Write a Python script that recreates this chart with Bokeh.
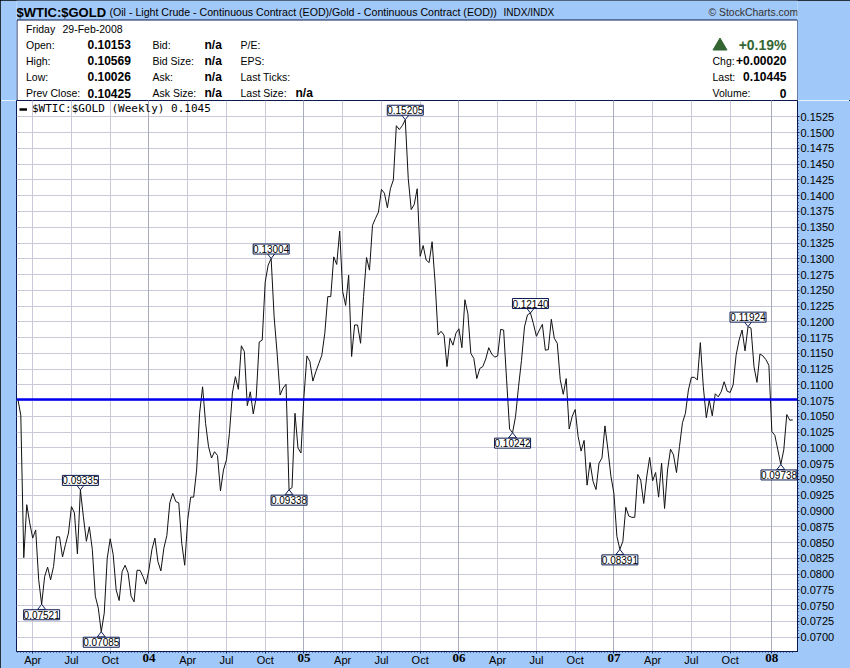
from bokeh.plotting import figure
from bokeh.embed import file_html
from bokeh.layouts import column
from bokeh.resources import INLINE
from bokeh.core.properties import value
from bokeh.models import (FixedTicker, Grid, Label, Legend, LegendItem, LinearAxis, Range1d, Span)

# --- data: weekly $WTIC:$GOLD ratio ---
ratio_2003 = [0.1078, 0.1052, 0.0826, 0.0910, 0.0881, 0.0857, 0.0870, 0.0791, 0.0752, 0.0796, 0.0811,
              0.0791, 0.0812, 0.0859, 0.0859, 0.0827, 0.0847, 0.0865, 0.0907, 0.0897, 0.0832, 0.09335,
              0.0891, 0.0852, 0.0875, 0.0839, 0.0765, 0.0746, 0.07085, 0.0738, 0.0825, 0.0856, 0.0831,
              0.0775, 0.0758, 0.0804, 0.0814, 0.0802, 0.0765, 0.0756, 0.0806, 0.0806, 0.0796, 0.0784]
ratio_2004 = [0.0807, 0.0839, 0.0857, 0.0820, 0.0805, 0.0841, 0.0861, 0.0913, 0.0928, 0.0915, 0.0913,
              0.0849, 0.0814, 0.0886, 0.0922, 0.0922, 0.0965, 0.1055, 0.1097, 0.1039, 0.1002, 0.0984,
              0.0994, 0.0988, 0.0932, 0.0965, 0.0981, 0.1023, 0.1087, 0.1113, 0.1093, 0.1162, 0.1153,
              0.1067, 0.1089, 0.1054, 0.1081, 0.1168, 0.1171, 0.1263, 0.1290, 0.13004, 0.1208, 0.1150,
              0.1084, 0.1095, 0.1101, 0.09338, 0.0937, 0.1055, 0.1000, 0.0992]
ratio_2005 = [0.1081, 0.1146, 0.1137, 0.1106, 0.1121, 0.1134, 0.1147, 0.1182, 0.1240, 0.1240, 0.1303,
              0.1291, 0.1344, 0.1248, 0.1226, 0.1274, 0.1145, 0.1195, 0.1195, 0.1166, 0.1240, 0.1302,
              0.1282, 0.1353, 0.1364, 0.1374, 0.1410, 0.1404, 0.1381, 0.1411, 0.1425, 0.1511, 0.1505,
              0.1511, 0.15205, 0.1427, 0.1378, 0.1386, 0.1411, 0.1304, 0.1321, 0.1298, 0.1294, 0.1327,
              0.1263, 0.1179, 0.1185, 0.1179, 0.1129, 0.1174, 0.1163, 0.1182]
ratio_2006 = [0.1189, 0.1159, 0.1235, 0.1213, 0.1150, 0.1142, 0.1110, 0.1126, 0.1129, 0.1141, 0.1159,
              0.1149, 0.1144, 0.1146, 0.1188, 0.1187, 0.1108, 0.1030, 0.10242, 0.1050, 0.1097, 0.1139,
              0.1192, 0.1211, 0.12140, 0.1197, 0.1177, 0.1187, 0.1196, 0.1155, 0.1156, 0.1204, 0.1174,
              0.1166, 0.1108, 0.1085, 0.1110, 0.1030, 0.1050, 0.1061, 0.1018, 0.0995, 0.1012, 0.0941,
              0.0977, 0.0947, 0.0934, 0.0976, 0.0984, 0.1035, 0.0997, 0.0955]
ratio_2007 = [0.0928, 0.0860, 0.08391, 0.0852, 0.0906, 0.0892, 0.0890, 0.0890, 0.0958, 0.0949, 0.0912,
              0.0954, 0.0985, 0.0948, 0.0961, 0.0922, 0.0976, 0.0904, 0.0965, 0.0998, 0.0989, 0.0961,
              0.1002, 0.1040, 0.1055, 0.1092, 0.1112, 0.1112, 0.1108, 0.1167, 0.1097, 0.1048, 0.1076,
              0.1051, 0.1086, 0.1081, 0.1089, 0.1105, 0.1090, 0.1088, 0.1100, 0.1147, 0.1171, 0.1187,
              0.1154, 0.11924, 0.1190, 0.1129, 0.1104, 0.1149, 0.1146, 0.1140, 0.1131]
ratio_2008 = [0.1026, 0.1020, 0.0997, 0.09738, 0.0997, 0.1053, 0.1044, 0.10445]
ratio = ratio_2003 + ratio_2004 + ratio_2005 + ratio_2006 + ratio_2007 + ratio_2008
weeks = list(range(len(ratio)))

quarter_ticks = [5, 18, 31, 44, 57, 70, 83, 96, 109, 122, 135, 148, 161, 174, 187, 200, 213, 226, 239, 253]
quarter_names = ["Apr", "Jul", "Oct", "", "Apr", "Jul", "Oct", "", "Apr", "Jul", "Oct", "",
                 "Apr", "Jul", "Oct", "", "Apr", "Jul", "Oct", ""]
year_ticks = [44, 96, 148, 200, 253]
year_names = ["04", "05", "06", "07", "08"]

price_ticks = [round(0.07 + 0.0025 * k, 4) for k in range(34)]
reference_level = 0.1077

call_weeks = [8, 21, 28, 85, 91, 130, 166, 172, 202, 245, 256]
call_values = [0.07521, 0.09335, 0.07085, 0.13004, 0.09338, 0.15205, 0.10242, 0.12140, 0.08391, 0.11924, 0.09738]
call_above = [False, True, False, True, False, True, False, True, False, True, False]

info_rows = ["Open:", "High:", "Low:", "Prev Close:"]
info_values = ["0.10153", "0.10569", "0.10026", "0.10425"]
bid_rows = ["Bid:", "Bid Size:", "Ask:", "Ask Size:"]
misc_rows = ["P/E:", "EPS:", "Last Ticks:", "Last Size:"]

# --- style ---
BG = "#a0c8f8"
NAVY = "#0a1a50"
GRID = "#c9c9d9"
YEAR_GRID = "#a9adbb"
GREEN = "#336633"
SANS = "Liberation Sans"

# --- header panel: its frame lines up with the chart's, so its x range runs 16..797 ---
hdr = figure(width=850, height=100, output_backend="svg", toolbar_location=None,
             x_range=Range1d(16, 797), y_range=Range1d(100, 0),
             x_axis_location=None, y_axis_location=None, min_border=0,
             border_fill_color=BG, background_fill_color=BG, outline_line_color=None)
hdr.grid.visible = False
hdr.quad(left=[16.5], right=[797], top=[19.5], bottom=[100.5], fill_color="white", line_color=NAVY)
hdr.patch([712.5, 719.5, 726.5], [49.5, 37.5, 49.5], fill_color=GREEN, line_color=GREEN)

def text(x, y, s, size="10.5px", bold=False, align="left", color="black", font=SANS):
    hdr.add_layout(Label(x=x, y=y, text=s, text_align=align, text_baseline="middle",
                         text_font=font, text_font_size=size,
                         text_font_style="bold" if bold else "normal", text_color=color))

text(16, 11.5, "$WTIC:$GOLD", "13px", True)
text(109, 11.5, "(Oil - Light Crude - Continuous Contract (EOD)/Gold - Continuous Contract (EOD))", "10.6px")
text(503, 11.5, "INDX/INDX", "10px")
text(708, 11.5, "\u00a9 StockCharts.com", "10.4px", color="#333333")
text(25.5, 28.5, "Friday")
text(62, 28.5, "29-Feb-2008")
rows_y = [44, 60, 76, 92.5]
for y, a, b, c, d in zip(rows_y, info_rows, info_values, bid_rows, misc_rows):
    text(25.5, y, a)
    text(87, y, b, "12px", True)
    text(152, y, c)
    text(204, y, "n/a", "12px", True)
    text(240, y, d)
text(295, 92.5, "n/a", "12px", True)
text(786, 44, "+0.19%", "14px", True, "right", GREEN)
text(712, 60, "Chg:")
text(786, 60, "+0.00020", "12px", True, "right")
text(712, 76, "Last:")
text(786, 76, "0.10445", "12px", True, "right")
text(712, 92.5, "Volume:")
text(786, 92.5, "0", "12px", True, "right")

# --- chart ---
y_low, y_high = 0.06772, 0.1551
p = figure(width=850, height=568, output_backend="svg", toolbar_location=None,
           x_range=Range1d(-0.44, 261.6), y_range=Range1d(y_low, y_high),
           x_axis_location=None, y_axis_location=None,
           min_border_left=16, min_border_right=53, min_border_top=0, min_border_bottom=16,
           border_fill_color=BG, background_fill_color="white",
           outline_line_color=NAVY, outline_line_width=1)
p.grid.visible = False

x_axis = LinearAxis(ticker=FixedTicker(ticks=quarter_ticks, minor_ticks=weeks),
                    major_label_overrides=dict(zip(quarter_ticks, quarter_names)),
                    axis_line_color=NAVY, major_tick_line_color=NAVY, minor_tick_line_color=NAVY,
                    major_tick_in=0, major_tick_out=2, minor_tick_in=0, minor_tick_out=1,
                    major_label_text_font=SANS, major_label_text_font_size="11px",
                    major_label_text_color="black", major_label_standoff=0)
p.add_layout(x_axis, "below")

year_axis = LinearAxis(ticker=FixedTicker(ticks=year_ticks),
                       major_label_overrides=dict(zip(year_ticks, year_names)),
                       axis_line_color=None, major_tick_line_color=None, minor_tick_line_color=None,
                       major_tick_in=0, major_tick_out=0, minor_tick_in=0, minor_tick_out=0,
                       major_label_text_font="Liberation Serif", major_label_text_font_size="13px",
                       major_label_text_font_style="bold",
                       major_label_text_color="black", major_label_standoff=-15)
p.add_layout(year_axis, "below")

y_axis = LinearAxis(ticker=FixedTicker(ticks=price_ticks,
                                       minor_ticks=[round(0.07 + 0.0005 * k, 4) for k in range(166)]),
                    major_label_overrides={t: f"{t:.4f}" for t in price_ticks},
                    axis_line_color=NAVY, major_tick_line_color=NAVY, minor_tick_line_color=NAVY,
                    major_tick_in=0, major_tick_out=2, minor_tick_in=0, minor_tick_out=1,
                    major_label_text_font=SANS, major_label_text_font_size="11px",
                    major_label_text_color="black", major_label_standoff=1)
p.add_layout(y_axis, "right")

p.add_layout(Grid(dimension=1, ticker=FixedTicker(ticks=price_ticks), grid_line_color=GRID, grid_line_width=1))
p.add_layout(Grid(dimension=0, ticker=FixedTicker(ticks=quarter_ticks), grid_line_color=GRID, grid_line_width=1))
p.add_layout(Grid(dimension=0, ticker=FixedTicker(ticks=year_ticks), grid_line_color=YEAR_GRID, grid_line_width=1))

series = p.line(weeks, ratio, line_color="#111111", line_width=1.0)
key = p.line(weeks[:1], ratio[:1], line_color="black", line_width=2.5)
p.add_layout(Span(location=reference_level, dimension="width", line_color="#0000f0", line_width=2.5))

legend = Legend(items=[LegendItem(label="$WTIC:$GOLD (Weekly) 0.1045", renderers=[key])],
                location=(0, 533), margin=0, padding=3, glyph_width=8, glyph_height=8,
                label_standoff=5, label_text_font="DejaVu Sans Mono", label_text_font_size="11px",
                label_text_color="black", label_height=8, background_fill_alpha=0, border_line_alpha=0)
p.add_layout(legend)

# call-outs, placed relative to each value in data space
per_px_y = (y_high - y_low) / 552
per_px_x = (261.6 + 0.44) / 781
half_w, tip_h = 4 * per_px_x, 5.2 * per_px_y
box_limit = 255.4  # keeps the last box inside the frame at the right-hand end
pxs, pys, cx, cy, names = [], [], [], [], []
for w, v, up in zip(call_weeks, call_values, call_above):
    s = 1 if up else -1
    pxs.append([w - half_w, w, w + half_w])
    pys.append([v + s * tip_h, v, v + s * tip_h])
    cx.append(min(w, box_limit))
    cy.append(v + s * (9.5 if up else 10.5) * per_px_y)
    names.append(f"{v:.5f}")
p.patches(pxs, pys, fill_color="white", line_color=NAVY, line_width=1)
p.rect(cx, cy, width=36, height=10, width_units="screen", height_units="screen",
       fill_color="white", line_color=NAVY, line_width=1)
p.text(cx, cy, text=names, text_align="center", text_baseline="middle",
       text_font=value(SANS), text_font_size="10px", text_color="black")

page = column(hdr, p, spacing=0)
page.styles = {"position": "absolute", "left": "0px", "top": "0px",
               "outline": "1px solid black", "outline-offset": "-1px"}

open("out.html", "w").write(file_html(page, INLINE))
